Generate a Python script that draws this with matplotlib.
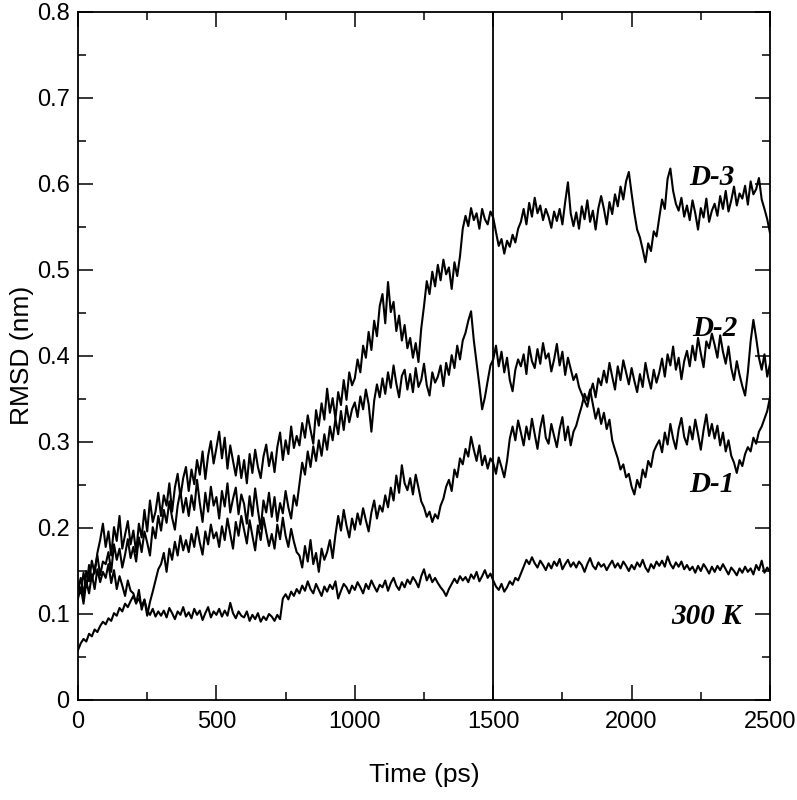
import numpy as np
import matplotlib
matplotlib.use("Agg")
import matplotlib.pyplot as plt
from matplotlib.ticker import MultipleLocator

# Time axis (ps), sampled every 10 ps
time_ps = np.arange(0, 2501, 10)

rmsd_d3 = [
    0.128, 0.142, 0.121, 0.150, 0.138, 0.162, 0.147, 0.171, 0.186, 0.205,
    0.178, 0.196, 0.168, 0.201, 0.185, 0.214, 0.176, 0.192, 0.208, 0.181,
    0.197, 0.172, 0.205, 0.189, 0.221, 0.196, 0.232, 0.207, 0.219, 0.241,
    0.214, 0.238, 0.226, 0.252, 0.219, 0.247, 0.263, 0.236, 0.258, 0.271,
    0.243, 0.268, 0.251, 0.279, 0.262, 0.289, 0.257, 0.284, 0.301, 0.275,
    0.293, 0.312, 0.281, 0.305, 0.269, 0.296, 0.278, 0.261, 0.284, 0.258,
    0.279, 0.252, 0.286, 0.264, 0.291, 0.271, 0.258, 0.283, 0.297, 0.272,
    0.288, 0.265, 0.294, 0.311, 0.279, 0.302, 0.286, 0.318, 0.293, 0.307,
    0.296, 0.322, 0.305, 0.331, 0.314, 0.298, 0.337, 0.319, 0.345, 0.326,
    0.362, 0.334, 0.351, 0.327, 0.358, 0.343, 0.372, 0.349, 0.381, 0.366,
    0.374, 0.396, 0.381, 0.412, 0.398, 0.428, 0.407, 0.441, 0.423, 0.458,
    0.472, 0.438, 0.486, 0.451, 0.463, 0.429, 0.447, 0.418, 0.436, 0.409,
    0.421, 0.398, 0.415, 0.393, 0.432, 0.458, 0.487, 0.472, 0.498, 0.481,
    0.506, 0.488, 0.512, 0.495, 0.503, 0.478, 0.509, 0.493, 0.516, 0.548,
    0.563, 0.551, 0.572, 0.558, 0.566, 0.548, 0.571, 0.559, 0.553, 0.568,
    0.561, 0.544, 0.528, 0.536, 0.519, 0.534, 0.527, 0.541, 0.532, 0.548,
    0.556, 0.571, 0.553, 0.578, 0.562, 0.584, 0.566, 0.575, 0.558, 0.571,
    0.562, 0.549, 0.568, 0.557, 0.571, 0.553, 0.579, 0.602, 0.566, 0.551,
    0.567, 0.548, 0.574, 0.559, 0.581, 0.556, 0.569, 0.547, 0.572, 0.586,
    0.571, 0.553, 0.579, 0.565, 0.588, 0.574, 0.597, 0.582, 0.603, 0.614,
    0.589, 0.566, 0.547, 0.538, 0.524, 0.509, 0.531, 0.522, 0.545, 0.539,
    0.561, 0.582, 0.571, 0.606, 0.618, 0.592, 0.577, 0.569, 0.584, 0.562,
    0.575, 0.558, 0.581, 0.566, 0.547, 0.572, 0.561, 0.583, 0.556, 0.569,
    0.577, 0.563, 0.586, 0.571, 0.592, 0.568, 0.581, 0.597, 0.575, 0.589,
    0.583, 0.598, 0.576, 0.603, 0.588, 0.594, 0.607, 0.582, 0.571, 0.559,
    0.543,
]

rmsd_d2 = [
    0.136, 0.124, 0.148, 0.131, 0.157, 0.139, 0.152, 0.168, 0.145, 0.161,
    0.158, 0.172, 0.149, 0.181, 0.163, 0.176, 0.154, 0.169, 0.187, 0.165,
    0.178, 0.161, 0.189, 0.172, 0.196, 0.183, 0.168, 0.201, 0.188, 0.214,
    0.197, 0.221, 0.206, 0.231, 0.212, 0.198, 0.226, 0.243, 0.218, 0.235,
    0.214, 0.238, 0.221, 0.256, 0.229, 0.207, 0.241, 0.219, 0.248, 0.226,
    0.236, 0.211, 0.243, 0.225, 0.252, 0.218, 0.234, 0.247, 0.216, 0.239,
    0.228, 0.205, 0.237, 0.214, 0.246, 0.221, 0.199, 0.232, 0.218, 0.241,
    0.213, 0.236, 0.208, 0.229, 0.217, 0.243, 0.224, 0.211, 0.238, 0.226,
    0.251, 0.276, 0.262, 0.289, 0.271, 0.295, 0.278, 0.302, 0.284, 0.309,
    0.291, 0.318, 0.302, 0.327, 0.309, 0.336, 0.314, 0.342, 0.323, 0.338,
    0.346, 0.329, 0.353, 0.338, 0.361, 0.344, 0.312, 0.348, 0.367, 0.352,
    0.374, 0.356, 0.381, 0.363, 0.389, 0.368, 0.352, 0.377, 0.384, 0.361,
    0.379, 0.358, 0.386, 0.364, 0.372, 0.391, 0.366, 0.354, 0.381, 0.369,
    0.376, 0.389, 0.365, 0.392, 0.378, 0.401, 0.386, 0.412, 0.396, 0.418,
    0.427, 0.441, 0.452, 0.418, 0.392, 0.366, 0.338, 0.352, 0.371, 0.389,
    0.396, 0.412, 0.388, 0.405, 0.381, 0.398, 0.372, 0.359, 0.384, 0.396,
    0.388, 0.402, 0.379, 0.411, 0.394, 0.386, 0.408, 0.391, 0.415, 0.397,
    0.403, 0.382, 0.396, 0.414, 0.389, 0.405, 0.378, 0.398, 0.385, 0.372,
    0.379, 0.364, 0.356, 0.348, 0.341, 0.357, 0.368, 0.352, 0.374, 0.366,
    0.383, 0.369, 0.392, 0.376, 0.361, 0.388, 0.372, 0.395, 0.381, 0.367,
    0.386, 0.371, 0.358, 0.379, 0.364, 0.392, 0.375, 0.362, 0.384, 0.369,
    0.381, 0.397, 0.376, 0.402, 0.389, 0.411, 0.384, 0.398, 0.373, 0.394,
    0.406, 0.388, 0.412, 0.395, 0.421, 0.403, 0.387, 0.417, 0.409, 0.426,
    0.413, 0.398, 0.424, 0.405, 0.391, 0.411, 0.386, 0.372, 0.394, 0.378,
    0.365, 0.354, 0.381, 0.417, 0.442, 0.421, 0.398, 0.384, 0.402, 0.376,
    0.391,
]

rmsd_d1 = [
    0.118, 0.131, 0.112, 0.138, 0.124, 0.146, 0.129, 0.152, 0.137, 0.149,
    0.142, 0.158, 0.136, 0.151, 0.129, 0.144, 0.133, 0.121, 0.139, 0.127,
    0.124, 0.112, 0.128, 0.105, 0.117, 0.098, 0.114, 0.126, 0.139, 0.152,
    0.158, 0.171, 0.149, 0.176, 0.163, 0.184, 0.168, 0.191, 0.174, 0.186,
    0.172, 0.193, 0.178, 0.201, 0.183, 0.169, 0.196, 0.181, 0.204, 0.188,
    0.195, 0.178, 0.202, 0.186, 0.211, 0.193, 0.176, 0.207, 0.191, 0.214,
    0.198, 0.182, 0.209, 0.191, 0.174, 0.203, 0.186, 0.212, 0.195, 0.179,
    0.193, 0.176, 0.204, 0.187, 0.212, 0.191, 0.178, 0.199, 0.184, 0.172,
    0.168, 0.154, 0.179, 0.161, 0.186, 0.158, 0.171, 0.149, 0.176, 0.163,
    0.172, 0.186, 0.165, 0.192, 0.214, 0.197, 0.221, 0.203, 0.189, 0.211,
    0.198, 0.217, 0.204, 0.223, 0.209, 0.196, 0.218, 0.232, 0.211, 0.226,
    0.219, 0.238, 0.224, 0.247, 0.232, 0.261, 0.241, 0.273, 0.252, 0.244,
    0.258, 0.239, 0.262, 0.247, 0.231, 0.224, 0.213, 0.219, 0.207, 0.216,
    0.211, 0.226, 0.234, 0.248, 0.256, 0.243, 0.268, 0.259, 0.281, 0.274,
    0.292, 0.283, 0.306, 0.291, 0.278, 0.296, 0.273, 0.284, 0.269, 0.281,
    0.276, 0.263, 0.282, 0.271, 0.259, 0.278, 0.304, 0.318, 0.302, 0.325,
    0.311, 0.296, 0.318, 0.303, 0.327, 0.309, 0.292, 0.316, 0.331, 0.305,
    0.298, 0.321, 0.307, 0.294, 0.315, 0.329, 0.302, 0.318, 0.296, 0.312,
    0.319, 0.331, 0.342, 0.356, 0.348, 0.361, 0.344, 0.327, 0.339, 0.321,
    0.334, 0.315, 0.326, 0.302, 0.291, 0.281, 0.268, 0.274, 0.259, 0.263,
    0.248, 0.239, 0.256, 0.247, 0.268, 0.259, 0.278, 0.271, 0.289, 0.296,
    0.302, 0.288, 0.311, 0.297, 0.321, 0.304, 0.292, 0.315, 0.328, 0.306,
    0.297, 0.318, 0.303, 0.326, 0.309, 0.291, 0.314, 0.332, 0.307, 0.321,
    0.304, 0.319, 0.296, 0.311, 0.289, 0.302, 0.284, 0.276, 0.264, 0.279,
    0.272, 0.286, 0.294, 0.289, 0.305, 0.298, 0.312, 0.318, 0.327, 0.336,
    0.352,
]

rmsd_300k = [
    0.058, 0.066, 0.071, 0.068, 0.077, 0.074, 0.082, 0.079, 0.086, 0.091,
    0.088, 0.095, 0.092, 0.101, 0.098, 0.107, 0.103, 0.112, 0.108, 0.115,
    0.121, 0.113, 0.118, 0.109, 0.116, 0.104, 0.099, 0.106, 0.097, 0.103,
    0.098, 0.104, 0.096, 0.107, 0.101, 0.094, 0.103, 0.099, 0.108, 0.097,
    0.102, 0.095, 0.106, 0.099, 0.104, 0.093, 0.101, 0.108, 0.096, 0.103,
    0.099, 0.106, 0.097, 0.104, 0.098, 0.113, 0.101, 0.095, 0.103, 0.098,
    0.096, 0.103, 0.092, 0.099, 0.094, 0.101, 0.091, 0.097, 0.093, 0.100,
    0.097, 0.092, 0.099, 0.094, 0.118, 0.123, 0.117, 0.126, 0.121, 0.129,
    0.124, 0.133, 0.127, 0.138, 0.129, 0.124, 0.135, 0.128, 0.121, 0.132,
    0.126, 0.134, 0.129, 0.138, 0.118, 0.127, 0.135, 0.131, 0.124, 0.133,
    0.128, 0.137, 0.131, 0.124, 0.135, 0.129, 0.139, 0.132, 0.126, 0.134,
    0.131, 0.139, 0.127, 0.136, 0.142, 0.133, 0.128, 0.137, 0.131, 0.140,
    0.135, 0.143, 0.138, 0.131, 0.144, 0.152, 0.139, 0.146, 0.137, 0.142,
    0.136, 0.131, 0.127, 0.121, 0.129, 0.135, 0.141, 0.136, 0.144, 0.139,
    0.143, 0.137, 0.146, 0.141, 0.149, 0.138, 0.144, 0.151, 0.142, 0.147,
    0.139, 0.132, 0.128, 0.135, 0.126, 0.131, 0.138, 0.134, 0.142, 0.139,
    0.147, 0.155, 0.163, 0.158, 0.166, 0.159, 0.154, 0.162, 0.157, 0.151,
    0.159, 0.153, 0.161, 0.156, 0.164, 0.152, 0.158, 0.163, 0.155, 0.160,
    0.154, 0.161, 0.157, 0.149, 0.158, 0.165, 0.156, 0.152, 0.160, 0.155,
    0.158, 0.151, 0.157, 0.162, 0.154, 0.159, 0.153, 0.161, 0.156, 0.150,
    0.157, 0.152, 0.160, 0.155, 0.163, 0.154, 0.149, 0.158, 0.153, 0.161,
    0.156, 0.162, 0.155, 0.167, 0.158, 0.153, 0.160, 0.155, 0.161, 0.152,
    0.157, 0.151, 0.155, 0.148, 0.156, 0.150, 0.158, 0.153, 0.147, 0.155,
    0.149, 0.156, 0.151, 0.158, 0.152, 0.146, 0.154, 0.150, 0.145, 0.153,
    0.148, 0.155, 0.149, 0.153, 0.146, 0.157, 0.151, 0.162, 0.148, 0.154,
    0.149,
]

series_labels = ["D-3", "D-2", "D-1", "300 K"]
label_pos_t = [2290, 2300, 2290, 2270]
label_pos_v = [0.607, 0.432, 0.250, 0.097]
marker_time = 1500

x_ticks = [0, 500, 1000, 1500, 2000, 2500]
y_ticks = [0, 0.1, 0.2, 0.3, 0.4, 0.5, 0.6, 0.7, 0.8]

sans = ["Liberation Sans Narrow", "Liberation Sans", "DejaVu Sans"]
serif = ["Liberation Serif", "DejaVu Serif"]

fig = plt.figure(figsize=(7.97, 8.0), dpi=100)
ax = fig.add_axes([78 / 797, 1 - 700 / 800, (770 - 78) / 797, (700 - 12) / 800])

for series in (rmsd_d3, rmsd_d2, rmsd_d1, rmsd_300k):
    ax.plot(time_ps, series, color="black", lw=1.5)

ax.axvline(marker_time, color="black", lw=1.3)

for lab, tx, ty in zip(series_labels, label_pos_t, label_pos_v):
    ax.text(tx, ty, lab, family=serif, fontsize=21, fontweight="bold",
            fontstyle="italic", ha="center", va="center")

ax.set_xlim(0, 2500)
ax.set_ylim(0, 0.8)
ax.set_xticks(x_ticks)
ax.set_yticks(y_ticks)
ax.set_yticklabels(["0" if v == 0 else f"{v:.1f}" for v in y_ticks])
ax.xaxis.set_minor_locator(MultipleLocator(250))
ax.yaxis.set_minor_locator(MultipleLocator(0.05))
ax.tick_params(which="both", direction="in", top=True, right=True, width=1.1)
ax.tick_params(which="major", length=11, labelsize=17, pad=6)
ax.tick_params(which="minor", length=6)
for lab in ax.get_xticklabels() + ax.get_yticklabels():
    lab.set_family(sans)
ax.tick_params(axis="x", which="major", pad=8)
for s in ax.spines.values():
    s.set_linewidth(1.3)

ax.set_xlabel("Time (ps)", family=sans, fontsize=19)
ax.set_ylabel("RMSD (nm)", family=sans, fontsize=19)
ax.xaxis.set_label_coords(0.501, -0.091)
ax.yaxis.set_label_coords(-0.064, 0.501)

fig.savefig("out.png", dpi=100)
